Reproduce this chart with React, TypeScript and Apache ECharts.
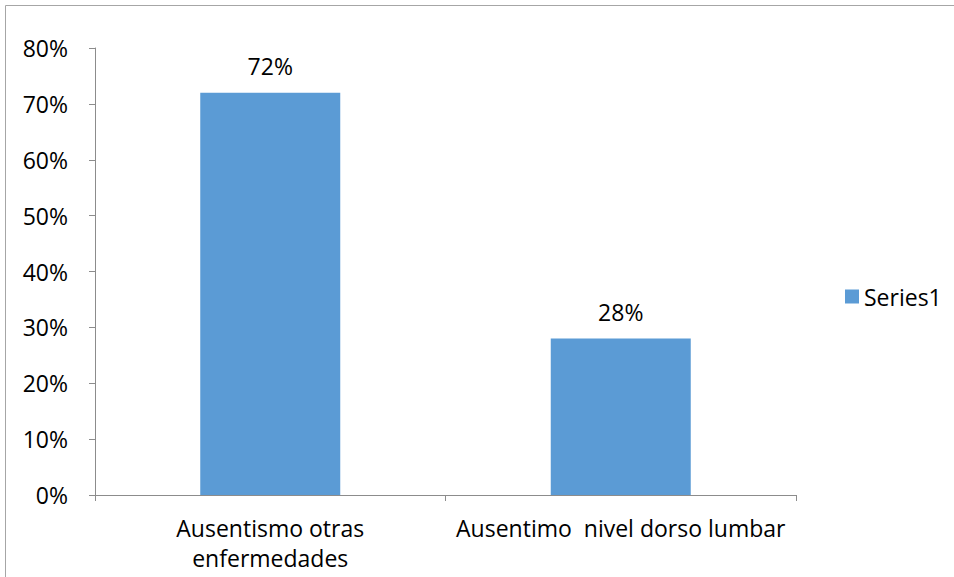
import React, { useEffect, useRef } from "react";
import * as echarts from "echarts";

const categories = ["Ausentismo otras\nenfermedades", "Ausentimo  nivel dorso lumbar"];
const seriesName = "Series1";
const values = [0.72, 0.28];
const yTicks = { min: 0, max: 0.8, interval: 0.1 };

const FONT = "Open Sans";
const FS = 23;
const AXIS = "#8c8c8c";

export default function App() {
  const ref = useRef<HTMLDivElement>(null);
  useEffect(() => {
    document.body.style.margin = "0";
    const chart = echarts.init(ref.current!, null, { renderer: "svg" });
    chart.setOption({
      animation: false,
      textStyle: { fontFamily: FONT, color: "#000" },
      graphic: [
        {
          type: "rect",
          shape: { x: 5.5, y: 5.5, width: 1000, height: 1000 },
          style: { fill: "none", stroke: "#a6a6a6", lineWidth: 1 },
          silent: true,
        },
      ],
      legend: {
        data: [seriesName],
        left: 840,
        top: 280,
        icon: "rect",
        itemWidth: 14,
        itemHeight: 14,
        itemGap: 6,
        textStyle: { fontFamily: FONT, fontSize: FS, color: "#000", padding: [0, 0, 0, 0] },
      },
      grid: { left: 95, top: 48, width: 701, height: 447, containLabel: false },
      xAxis: {
        type: "category",
        data: categories,
        axisLine: { lineStyle: { color: AXIS, width: 1 } },
        axisTick: { show: true, alignWithLabel: false, length: 6, lineStyle: { color: AXIS } },
        axisLabel: { fontFamily: FONT, fontSize: FS, color: "#000", margin: 18, lineHeight: 30, interval: 0 },
      },
      yAxis: {
        type: "value",
        min: yTicks.min,
        max: yTicks.max,
        interval: yTicks.interval,
        axisLine: { show: true, lineStyle: { color: AXIS, width: 1 } },
        axisTick: { show: true, length: 6, lineStyle: { color: AXIS } },
        splitLine: { show: false },
        axisLabel: {
          fontFamily: FONT,
          fontSize: FS,
          color: "#000",
          margin: 27,
          formatter: (v: number) => Math.round(v * 100) + "%",
        },
      },
      series: [
        {
          name: seriesName,
          type: "bar",
          data: values,
          barWidth: 140,
          itemStyle: { color: "#5B9BD5" },
          label: {
            show: true,
            position: "top",
            distance: 15,
            fontFamily: FONT,
            fontSize: FS,
            color: "#000",
            formatter: (p: any) => Math.round(p.value * 100) + "%",
          },
        },
      ],
    });
    return () => chart.dispose();
  }, []);
  return <div ref={ref} style={{ width: 954, height: 577 }} />;
}
